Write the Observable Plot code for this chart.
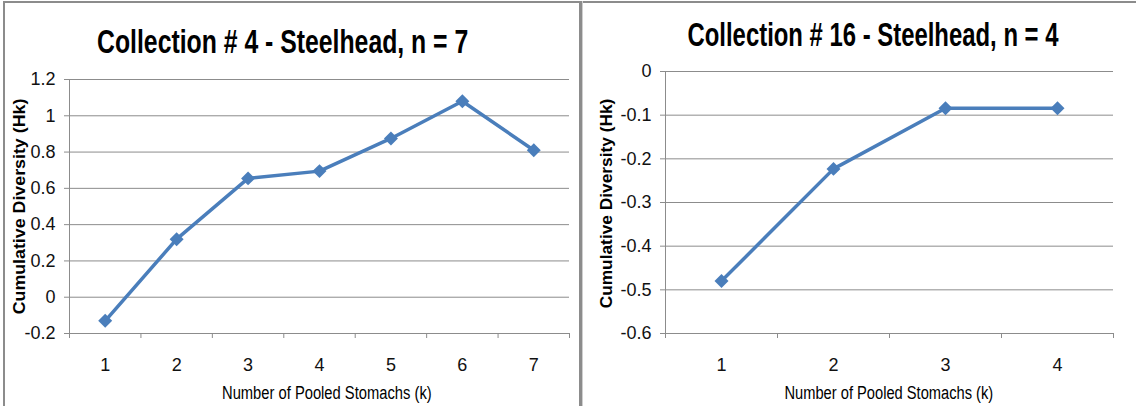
<!DOCTYPE html>
<html><head><meta charset="utf-8">
<script src="https://cdn.jsdelivr.net/npm/d3@7"></script>
<script src="https://cdn.jsdelivr.net/npm/@observablehq/plot@0.6"></script>
<style>
body{margin:0;background:#fff;}
#root{position:relative;width:1136px;height:406px;overflow:hidden;background:#fff;font-family:"Liberation Sans",Arial,sans-serif;}
.title{position:absolute;font-weight:bold;font-size:30px;line-height:30px;color:#000;white-space:nowrap;}
.ytitle{position:absolute;font-weight:bold;font-size:15px;line-height:15px;white-space:nowrap;color:#000;}
.xtitle{position:absolute;font-size:16px;line-height:16px;white-space:nowrap;color:#000;}
.panel{position:absolute;top:50px;}
.bar{position:absolute;}
</style></head><body><div id="root"></div>
<script>
const leftTitle = "Collection # 4 - Steelhead, n = 7";
const rightTitle = "Collection # 16 - Steelhead, n = 4";
const xLabel = "Number of Pooled Stomachs (k)";
const yLabel = "Cumulative Diversity (Hk)";
const leftK = [1, 2, 3, 4, 5, 6, 7];
const leftHk = [-0.13, 0.32, 0.655, 0.695, 0.875, 1.08, 0.81];
const leftYTicks = [-0.2, 0, 0.2, 0.4, 0.6, 0.8, 1, 1.2];
const rightK = [1, 2, 3, 4];
const rightHk = [-0.48, -0.223, -0.084, -0.084];
const rightYTicks = [-0.6, -0.5, -0.4, -0.3, -0.2, -0.1, 0];

const FONT = '"Liberation Sans",Arial,sans-serif';
const GRID = "#8c8c8c";
const BLUE = "#4a7ebb";

function chart({k, hk, yTicks, width, mL, mR, mT, mB}) {
  const data = k.map((d, i) => ({k: d, hk: hk[i]}));
  const n = k.length;
  const bounds = d3.range(n + 1).map(i => i + 0.5);
  return Plot.plot({
    width, height: 356,
    marginTop: mT, marginBottom: mB, marginLeft: mL, marginRight: mR,
    style: {fontFamily: FONT, fontSize: "18px", color: "#111", background: "transparent", overflow: "visible"},
    x: {type: "linear", domain: [0.5, n + 0.5]},
    y: {domain: [yTicks[0], yTicks[yTicks.length - 1]]},
    marks: [
      Plot.ruleY(yTicks, {stroke: GRID, strokeWidth: 1}),
      Plot.ruleX([0.5], {stroke: GRID}),
      Plot.axisY(yTicks, {tickSize: 5, tickPadding: 9, stroke: GRID, tickFormat: d => String(+d.toFixed(1)), label: null}),
      Plot.axisX(bounds, {tickSize: 5, stroke: GRID, tickFormat: () => "", label: null}),
      Plot.axisX(k, {tickSize: 0, tickPadding: 25, tickFormat: d => String(d), label: null}),
      Plot.line(data, {x: "k", y: "hk", stroke: BLUE, strokeWidth: 3.5}),
      Plot.dot(data, {x: "k", y: "hk", symbol: "diamond2", r: 6.3, fill: BLUE})
    ]
  });
}

const root = document.getElementById("root");
function addDiv(cls, style, text) {
  const d = document.createElement("div");
  d.className = cls;
  Object.assign(d.style, style);
  if (text) d.textContent = text;
  root.appendChild(d);
  return d;
}

const lp = addDiv("panel", {left: "5px"});
lp.appendChild(chart({k: leftK, hk: leftHk, yTicks: leftYTicks, width: 573, mL: 64, mR: 9, mT: 29, mB: 73}));
const rp = addDiv("panel", {left: "583px"});
rp.appendChild(chart({k: rightK, hk: rightHk, yTicks: rightYTicks, width: 553, mL: 82, mR: 23, mT: 21, mB: 73}));

// frame lines
addDiv("bar", {left: "3px", top: "1px", width: "1133px", height: "2px", background: GRID});
addDiv("bar", {left: "3px", top: "1px", width: "2px", height: "405px", background: GRID});
addDiv("bar", {left: "579px", top: "1px", width: "3px", height: "405px", background: GRID});
addDiv("bar", {left: "582px", top: "1px", width: "1px", height: "405px", background: "#cfcfcf"});

// text placed by centre, fitted to the reference's text extents
function place(cls, text, cx, cy, len, sy, rotate) {
  const d = addDiv(cls, {left: "0px", top: "0px"}, text);
  const w = d.offsetWidth, h = d.offsetHeight;
  d.style.left = (cx - w / 2) + "px";
  d.style.top = (cy - h / 2) + "px";
  d.style.transform = (rotate ? "rotate(-90deg) " : "") + `scale(${len / w}, ${sy})`;
}
place("title", leftTitle, 282.5, 42, 371, 1.12, false);
place("title", rightTitle, 872.5, 35, 371, 1.12, false);
place("ytitle", yLabel, 18.5, 206, 216, 1.05, true);
place("ytitle", yLabel, 606, 203, 210, 1.05, true);
place("xtitle", xLabel, 327, 393, 210, 1.15, false);
place("xtitle", xLabel, 889, 393, 209, 1.15, false);
</script></body></html>
